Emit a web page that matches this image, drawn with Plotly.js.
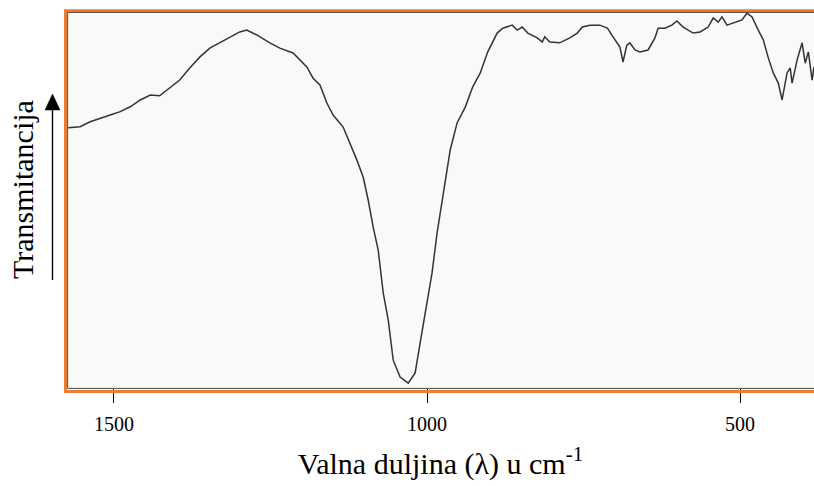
<!DOCTYPE html>
<html>
<head>
<meta charset="utf-8">
<script src="https://cdn.plot.ly/plotly-3.0.1.min.js"></script>
<style>html,body{margin:0;padding:0;background:#fff;}#chart{width:814px;height:486px;}</style>
</head>
<body>
<div id="chart"></div>
<script>
// Wavenumber (cm^-1) and relative transmittance (%)
const wavenumber = [1573,1554,1538,1522,1506,1490,1474,1458,1442,1427,1411,1395,1379,1363,1347,1331,1315,1299,1288,1272,1251,1235,1214,1192,1182,1171,1160,1150,1134,1123,1112,1102,1094,1086,1078,1070,1062,1054,1043,1030,1019,1011,1000,992,984,976,963,952,939,927,915,903,888,879,864,856,848,839,824,816,812,804,788,772,760,752,740,724,712,703,692,687,681,676,668,660,647,636,631,620,609,601,591,575,564,551,543,535,529,521,511,497,489,481,471,463,455,447,439,433,425,420,417,409,401,396,391,385,382];
const transmittance = [69.2,69.5,70.8,71.8,72.6,73.5,74.8,76.6,77.9,77.7,79.8,81.9,85.1,88.0,90.4,91.8,93.4,94.7,95.2,93.9,91.8,90.4,89.1,85.4,82.4,80.6,75.8,72.6,69.4,65.2,60.6,56.1,50.0,42.8,36.7,25.3,18.1,7.4,2.9,1.3,4.0,12.0,23.4,30.6,41.2,50.0,63.3,70.5,74.7,80.1,83.8,89.4,94.4,95.7,96.5,95.2,96.0,94.4,93.1,92.0,93.4,92.0,91.8,93.1,94.4,96.0,96.5,96.5,95.7,93.4,90.7,86.7,91.2,91.8,89.9,89.4,89.9,93.1,95.7,95.7,96.5,97.6,96.0,94.4,94.7,96.0,98.4,97.3,98.7,96.5,97.1,97.9,99.7,98.7,95.2,92.6,87.8,83.8,81.1,76.6,83.8,85.1,81.1,87.2,91.8,86.4,89.4,81.9,85.4];
const tickValues = [1500, 1000, 500];
const tickLabels = ['1500', '1000', '500'];

const W = 814, H = 486, L = 67, R = 0, T = 12, B = 98;
const pw = W - L - R, ph = H - T - B;
const px = v => (v - L) / pw;
const py = v => (H - B - v) / ph;

const trace = {
  x: wavenumber, y: transmittance, type: 'scatter', mode: 'lines',
  line: {color: '#333333', width: 1.5, shape: 'linear'}, hoverinfo: 'skip'
};

const serif = 'Liberation Serif';
const layout = {
  width: W, height: H,
  margin: {l: L, r: R, t: T, b: B},
  paper_bgcolor: '#ffffff', plot_bgcolor: '#f9f9f9',
  showlegend: false,
  font: {family: serif, color: '#000'},
  xaxis: {
    range: [1575, 382], tickvals: tickValues, ticktext: tickLabels,
    ticks: 'outside', ticklen: 14, tickwidth: 1, tickcolor: '#000',
    showgrid: false, zeroline: false, showline: false,
    tickfont: {family: serif, size: 20, color: '#000'},
    ticklabelstandoff: 4,
    title: {text: 'Valna duljina (λ) u cm<sup>-1</sup>', font: {family: serif, size: 30, color: '#000'}, standoff: 18}
  },
  yaxis: {
    range: [0, 100], showticklabels: false, ticks: '', showgrid: false,
    zeroline: false, showline: false
  },
  annotations: [{
    text: 'Transmitancija', xref: 'paper', yref: 'paper', x: px(22), y: py(190),
    xanchor: 'center', yanchor: 'middle', textangle: -90, showarrow: false,
    font: {family: serif, size: 30, color: '#000'}
  }],
  shapes: [
    {type: 'rect', xref: 'paper', yref: 'paper', x0: px(65.5), x1: 1.02, y0: py(391.5), y1: py(10.7),
     line: {color: '#ED7D31', width: 3}, fillcolor: 'rgba(0,0,0,0)', layer: 'above'},
    {type: 'rect', xref: 'paper', yref: 'paper', x0: px(67.6), x1: 1.02, y0: py(388.4), y1: py(12.4),
     line: {color: '#4a4a4a', width: 1}, fillcolor: 'rgba(0,0,0,0)', layer: 'above'},
    {type: 'line', xref: 'paper', yref: 'paper', x0: px(52.5), x1: px(52.5), y0: py(280), y1: py(108),
     line: {color: '#000', width: 1.4}},
    {type: 'path', xref: 'paper', yref: 'paper',
     path: `M ${px(45)} ${py(110)} L ${px(60)} ${py(110)} L ${px(52.5)} ${py(94)} Z`,
     fillcolor: '#000', line: {color: '#000', width: 0.5}}
  ]
};

Plotly.newPlot('chart', [trace], layout, {displayModeBar: false, staticPlot: true});
</script>
</body>
</html>
